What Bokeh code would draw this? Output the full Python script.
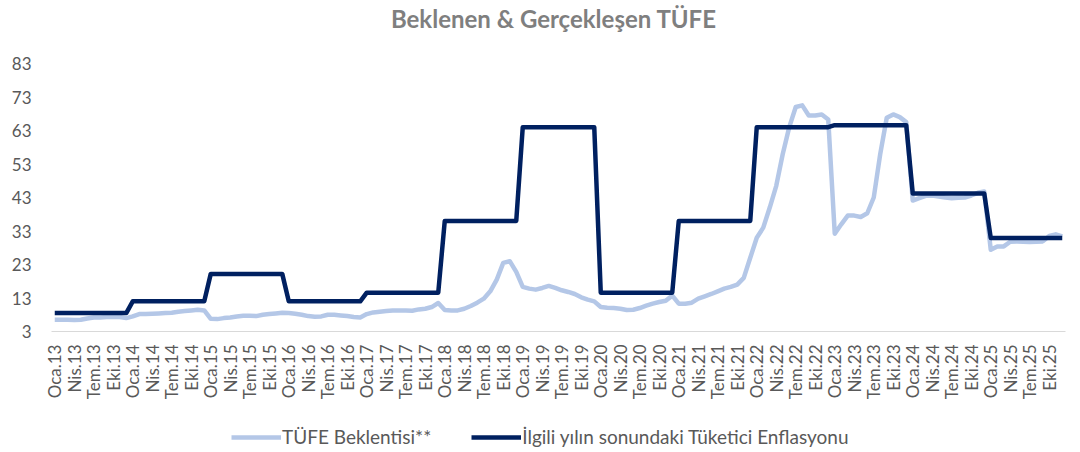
import numpy as np
from bokeh.plotting import figure
from bokeh.layouts import column
from bokeh.models import FixedTicker, Legend, LegendItem, Range1d
from bokeh.core.properties import value
from bokeh.embed import file_html
from bokeh.resources import INLINE

# ---------------- data ----------------
years = [2013, 2014, 2015, 2016, 2017, 2018, 2019, 2020, 2021, 2022, 2023, 2024, 2025]
month_names = ["Oca", "Şub", "Mar", "Nis", "May", "Haz", "Tem", "Ağu", "Eyl", "Eki", "Kas", "Ara"]

# TÜFE Beklentisi** (monthly)
exp_2013 = [6.5, 6.5, 6.5, 6.4, 6.5, 6.9, 7.2, 7.2, 7.3, 7.3, 7.3, 7.0]
exp_2014 = [7.5, 8.2, 8.2, 8.3, 8.4, 8.5, 8.6, 8.9, 9.1, 9.3, 9.5, 9.3]
exp_2015 = [6.8, 6.7, 7.0, 7.2, 7.5, 7.7, 7.7, 7.6, 8.0, 8.2, 8.4, 8.6]
exp_2016 = [8.5, 8.3, 8.0, 7.6, 7.4, 7.5, 8.0, 8.0, 7.8, 7.6, 7.3, 7.2]
exp_2017 = [8.2, 8.7, 8.9, 9.1, 9.3, 9.3, 9.3, 9.2, 9.6, 9.8, 10.3, 11.5]
exp_2018 = [9.4, 9.3, 9.3, 9.8, 10.6, 11.6, 12.8, 15.0, 18.5, 23.5, 24.0, 20.8]
exp_2019 = [16.3, 15.8, 15.5, 16.0, 16.6, 16.0, 15.3, 14.8, 14.2, 13.2, 12.5, 12.0]
exp_2020 = [10.3, 10.1, 10.0, 9.8, 9.4, 9.5, 10.0, 10.7, 11.3, 11.8, 12.2, 13.7]
exp_2021 = [11.3, 11.3, 11.6, 12.8, 13.5, 14.2, 15.0, 15.8, 16.3, 17.0, 19.0, 25.0]
exp_2022 = [31.0, 34.0, 40.0, 46.5, 56.0, 64.0, 70.0, 70.5, 67.5, 67.5, 67.8, 66.3]
exp_2023 = [32.2, 35.0, 37.6, 37.6, 37.2, 38.3, 43.0, 56.0, 66.8, 67.8, 67.0, 65.5]
exp_2024 = [42.1, 42.8, 43.5, 43.6, 43.3, 43.0, 42.8, 42.9, 43.0, 43.6, 44.4, 44.8]
exp_2025 = [27.4, 28.4, 28.4, 29.8, 29.9, 29.8, 29.7, 29.8, 29.9, 31.5, 32.0, 31.4]

# İlgili yılın sonundaki Tüketici Enflasyonu (one value per year)
actual_yearly = [8.5, 12.0, 20.2, 12.0, 14.6, 36.0, 64.0, 14.6, 36.0, 64.0, 64.6, 44.2, 30.9]

y_ticks = [3, 13, 23, 33, 43, 53, 63, 73, 83]
title_text = "Beklenen & Gerçekleşen TÜFE"
series_names = ["TÜFE Beklentisi**", "İlgili yılın sonundaki Tüketici Enflasyonu"]

# -------------- assemble --------------
expectation = (exp_2013 + exp_2014 + exp_2015 + exp_2016 + exp_2017 + exp_2018 + exp_2019
               + exp_2020 + exp_2021 + exp_2022 + exp_2023 + exp_2024 + exp_2025)
actual = [v for v in actual_yearly for _ in range(12)]
labels = [f"{m}.{str(y)[2:]}" for y in years for m in month_names]
x = list(range(len(labels)))

FONT = "Lato"
TXT = "#595959"
LIGHT = "#b4c7e7"
DARK = "#002060"
W = 1080

# ---------- title strip ----------
pt = figure(width=W, height=40, output_backend="svg", toolbar_location=None,
            x_range=Range1d(0, W), y_range=Range1d(0, 40),
            x_axis_location=None, y_axis_location=None, min_border=0)
pt.outline_line_color = None
pt.grid.visible = False
pt.text(x=[535], y=[22], text=[title_text], text_align="center", text_baseline="middle",
        text_font=value(FONT), text_font_style="bold", text_font_size="24px", text_color="#7f7f7f")

# ---------- main chart ----------
p = figure(width=W, height=372, output_backend="svg", toolbar_location=None,
           x_range=Range1d(-0.5, len(labels) - 0.5), y_range=Range1d(3, 83),
           min_border_left=51, min_border_right=15, min_border_top=23, min_border_bottom=81)
p.outline_line_color = None
p.xgrid.visible = False
p.ygrid.visible = False

p.line(x, expectation, line_color=LIGHT, line_width=4.5, line_join="round")
p.line(x, actual, line_color=DARK, line_width=4.5, line_join="round")

tick_idx = list(range(0, len(labels), 3))
p.xaxis.ticker = FixedTicker(ticks=tick_idx)
p.xaxis.major_label_overrides = {i: labels[i] for i in tick_idx}
p.xaxis.major_label_orientation = np.pi / 2
p.xaxis.axis_line_color = "#d9d9d9"
p.xaxis.axis_line_width = 1
p.xaxis.major_tick_line_color = None
p.xaxis.major_tick_out = 0
p.xaxis.minor_tick_line_color = None
p.xaxis.major_label_standoff = 13
p.xaxis.major_label_text_font = FONT
p.xaxis.major_label_text_font_size = "17px"
p.xaxis.major_label_text_color = TXT

p.yaxis.ticker = FixedTicker(ticks=y_ticks)
p.yaxis.axis_line_color = None
p.yaxis.major_tick_line_color = None
p.yaxis.major_tick_out = 0
p.yaxis.minor_tick_line_color = None
p.yaxis.major_label_standoff = 20
p.yaxis.major_label_text_font = FONT
p.yaxis.major_label_text_font_size = "17px"
p.yaxis.major_label_text_color = TXT

# ---------- legend strip ----------
pl = figure(width=W, height=40, output_backend="svg", toolbar_location=None,
            x_range=Range1d(0, 1), y_range=Range1d(0, 1),
            x_axis_location=None, y_axis_location=None, min_border=0)
pl.outline_line_color = None
pl.grid.visible = False
# off-screen samples, only used for the legend glyphs
l1 = pl.line([5, 6], [5, 6], line_color=LIGHT, line_width=4.5)
l2 = pl.line([5, 6], [5, 6], line_color=DARK, line_width=4.5)
legend = Legend(items=[LegendItem(label=series_names[0], renderers=[l1]),
                       LegendItem(label=series_names[1], renderers=[l2])],
                orientation="horizontal", location=(180, 4),
                label_text_font=FONT, label_text_font_size="19px", label_text_color=TXT,
                glyph_width=50, glyph_height=20, label_height=20, label_standoff=1, spacing=40,
                padding=0, margin=0, border_line_color=None, background_fill_alpha=0)
pl.add_layout(legend, "center")

layout = column(pt, p, pl, spacing=0)
open("out.html", "w").write(file_html(layout, INLINE))
